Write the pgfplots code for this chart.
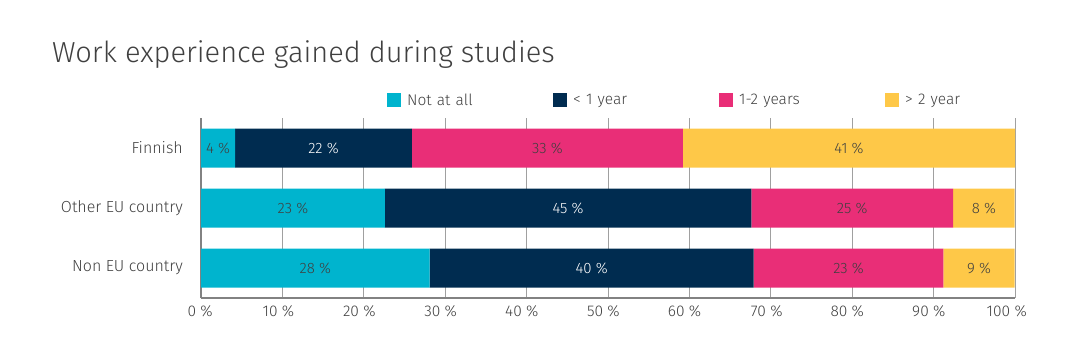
\documentclass[border=0pt]{standalone}
\usepackage{fontspec}
\setmainfont{Fira Sans Light}
\usepackage{pgfplots}
\pgfplotsset{compat=1.18}
\definecolor{ccyan}{RGB}{0,180,206}
\definecolor{cnavy}{RGB}{0,44,80}
\definecolor{cpink}{RGB}{233,46,119}
\definecolor{cyell}{RGB}{254,200,72}
\definecolor{ctext}{RGB}{64,64,64}
\definecolor{cgrid}{RGB}{160,160,160}
\definecolor{caxis}{RGB}{130,130,130}
\begin{document}
\begin{tikzpicture}[x=1pt,y=1pt]
\useasboundingbox (0,0) rectangle (1076,361);
\node[anchor=base west, inner sep=0pt, font=\fontsize{29}{33}\selectfont, text=ctext] at (52,298) {Work experience gained during studies};
\begin{axis}[
  at={(201pt,63pt)}, anchor=south west,
  scale only axis, width=814pt, height=180pt,
  xbar stacked, bar width=39pt,
  xmin=0, xmax=100, ymin=-0.5, ymax=2.5,
  y dir=reverse,
  ytick={0,1,2},
  yticklabels={Finnish, Other EU country, Non EU country},
  xtick={0,10,...,100},
  xticklabels={0 \%,10 \%,20 \%,30 \%,40 \%,50 \%,60 \%,70 \%,80 \%,90 \%,100 \%},
  /pgf/number format/assume math mode=true,
  major tick length=0pt,
  axis lines=left,
  axis line style={-, caxis, line width=1.2pt},
  xmajorgrids, ymajorgrids=false,
  grid style={cgrid, line width=1pt},
  tick label style={font=\fontsize{15.5}{18}\selectfont, text=ctext},
  y tick label style={inner sep=0pt, anchor=east, xshift=-18pt, font=\fontsize{16}{18}\selectfont},
  x tick label style={inner sep=0pt, anchor=north east, yshift=-7pt, xshift=12pt},
  visualization depends on={rawx \as \rawx},
  nodes near coords={\pgfmathprintnumber[fixed,precision=0,assume math mode=true]{\rawx}~\%},
  every node near coord/.append style={anchor=center, font=\fontsize{15}{18}\selectfont, text=ctext},
  legend columns=4,
  legend cell align=left,
  legend style={at={(0.2285,1.1)}, anchor=west, draw=none, fill=none, inner sep=0pt,
    font=\fontsize{15.5}{18}\selectfont, text=ctext,
    /tikz/every odd column/.append style={column sep=6pt},
    nodes={inner sep=0pt, text width=146pt, align=left}},
  legend image code/.code={\fill[#1] (0pt,-7pt) rectangle (14pt,7pt);},
]
\addplot[fill=ccyan, draw=none] coordinates {(4.2,0) (22.6,1) (28.1,2)};
\addplot[fill=cnavy, draw=none, every node near coord/.append style={text=white}] coordinates {(21.7,0) (45.0,1) (39.8,2)};
\addplot[fill=cpink, draw=none] coordinates {(33.3,0) (24.8,1) (23.3,2)};
\addplot[fill=cyell, draw=none] coordinates {(40.8,0) (7.55,1) (8.75,2)};
\legend{Not at all, < 1 year, 1-2 years, > 2 year}
\end{axis}
\end{tikzpicture}
\end{document}
